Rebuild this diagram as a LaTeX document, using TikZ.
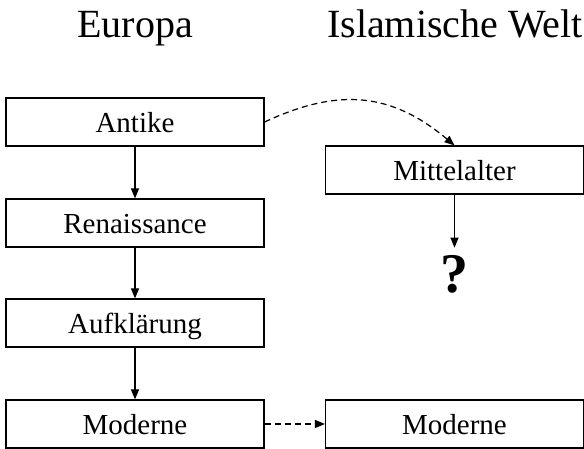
\documentclass[tikz,border=0pt]{standalone}
\usepackage{fontspec}
\setmainfont{Liberation Serif}
\usetikzlibrary{arrows.meta}
\tikzset{
	epoche/.style={draw,line width=0.6pt,minimum width=129pt,minimum height=24pt,inner sep=0pt,
		text height=11pt,text depth=0pt,font=\fontsize{14.5}{16}\selectfont},
	titel/.style={anchor=base,font=\fontsize{20}{24}\selectfont},
	fluss/.style={->,line width=0.6pt},
	bezug/.style={->,line width=0.6pt,dash pattern=on 3pt off 2pt}
}
\begin{document}
\begin{tikzpicture}[x=0.5pt,y=0.5pt,>={Triangle[length=5pt,width=4pt]}]
				\useasboundingbox (0,0) rectangle (584,449);
				\node[titel] (europa) at (135,411) {Europa};
				\node[titel] (islam) at (455,411) {Islamische Welt};
				\foreach \n/\t/\y in {antike/Antike/327,renaiss/Renaissance/226,aufkl/Aufklärung/126,modL/Moderne/25}{
					\node[epoche] (\n) at (135,\y) {\t};
				}
				\node[epoche] (mittel) at (454.5,279) {Mittelalter};
				\node[epoche] (modR) at (454.5,25) {Moderne};
				\node[inner sep=3.5pt,font=\fontsize{28}{30}\selectfont\bfseries] (frage) at (454.5,175) {?};
				\foreach \a/\b in {antike/renaiss,renaiss/aufkl,aufkl/modL}{
					\draw[fluss] (\a) -- (\b);
				}
				\draw[fluss] (mittel) -- (frage);
				\draw[bezug] (antike.east) to[out=25,in=140,looseness=1.1] (mittel.north);
				\draw[bezug] (modL) -- (modR);
			\end{tikzpicture}
\end{document}
